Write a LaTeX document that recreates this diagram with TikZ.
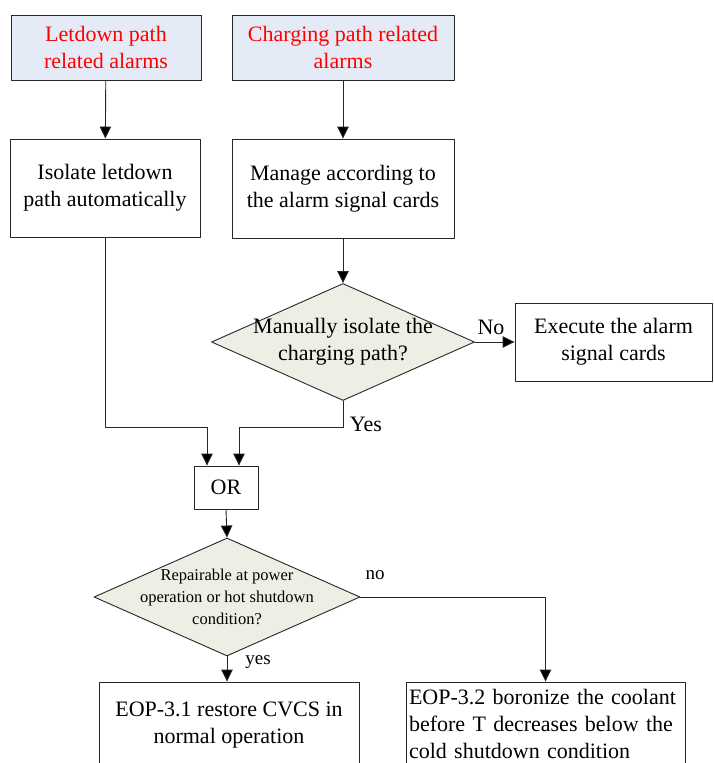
\documentclass[tikz,border=0pt]{standalone}
\usepackage{fontspec}
\setmainfont{Liberation Serif}
\usepackage{tikz}
\usetikzlibrary{shapes.geometric,arrows.meta,calc}
\definecolor{alarmfill}{RGB}{229,235,246}
\definecolor{askfill}{RGB}{238,238,228}
\tikzset{>={Triangle[length=12pt,width=11.5pt,fill=black]}}
\tikzset{
	box/.style={draw=black!85, line width=0.9pt, rectangle, align=center, inner sep=2pt, font=\fontsize{22}{27}\selectfont},
	alarmbox/.style={box, fill=alarmfill, text=red},
	ask/.style={draw=black!85, line width=0.9pt, diamond, fill=askfill, inner sep=0pt},
	tag/.style={font=\fontsize{22}{27}\selectfont, inner sep=0pt},
	smalltag/.style={font=\fontsize{16.5}{22}\selectfont, inner sep=0pt},
	flow/.style={->, draw=black!85, line width=0.9pt}
}

\begin{document}
\begin{tikzpicture}[x=1pt,y=-1pt,line cap=round,line join=round]
	\path[use as bounding box] (0,0) rectangle (713,763);
	\clip (0,0) rectangle (713,763);
	\node[alarmbox, minimum width=190pt, minimum height=65pt] (la) at (106,47.5) {Letdown path\\related alarms};
	\node[alarmbox, minimum width=222pt, minimum height=65pt] (ca) at (343,47.5) {Charging path related\\alarms};
	\node[box, minimum width=190pt, minimum height=98pt] (iso) at (105,188) {Isolate letdown\\path automatically};
	\node[box, minimum width=222pt, minimum height=99pt] (man) at (343,188.5) {Manage according to\\the alarm signal cards};
	\node[ask, minimum width=263pt, minimum height=117pt, label={[tag,align=center]center:Manually isolate the\\charging path?}] (q1) at (343,342) {};
	\node[box, minimum width=197pt, minimum height=78pt] (exe) at (613.5,342) {Execute the alarm\\signal cards};
	\node[box, minimum width=64pt, minimum height=43pt] (or) at (226,487.5) {OR};
	\node[ask, minimum width=266pt, minimum height=118pt, label={[smalltag,align=center]center:Repairable at power\\operation or hot shutdown\\condition?}] (q2) at (227,597) {};
	\node[box, minimum width=260pt, minimum height=86pt] (eop1) at (229,725) {EOP-3.1 restore CVCS in\\normal operation};
	\node[box, minimum height=84pt, text width=273pt, inner xsep=3pt, align=left] (eop2) at (545.5,724) {EOP-3.2 boronize the coolant\\before T decreases below the\\cold shutdown condition};
	\coordinate (jn) at (0,427);
	\draw[flow] (la) -- (iso);
	\draw[flow] (ca) -- (man);
	\draw[flow] (man) -- (q1.north);
	\draw[flow] (q1.east) -- (exe.west);
	\draw[flow] (iso.south) -- (iso.south |- jn) -| ([xshift=-19pt]or.north);
	\draw[flow] (q1.south) -- (q1.south |- jn) -| ([xshift=13pt]or.north);
	\draw[flow] (or.south) -- (q2.north);
	\draw[flow] (q2.east) -| (eop2.north);
	\draw[flow] (q2.south) -- (q2.south |- eop1.north);
	\node[tag] (no1) at (491,327) {No};
	\node[tag] (yes1) at (366,424) {Yes};
	\node[tag, font=\fontsize{19}{23}\selectfont] (no2) at (375,575) {no};
	\node[tag, font=\fontsize{19}{23}\selectfont] (yes2) at (258,662) {yes};
\end{tikzpicture}
\end{document}
